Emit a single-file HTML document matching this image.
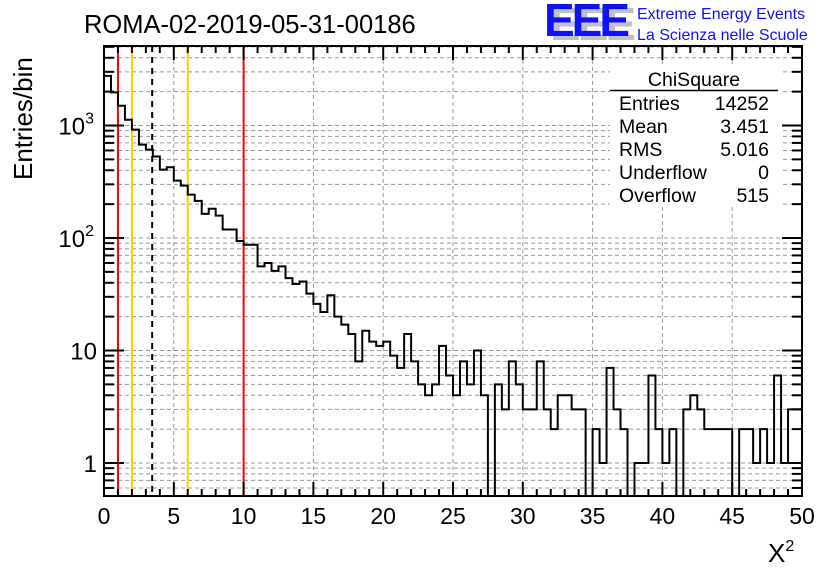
<!DOCTYPE html>
<html><head><meta charset="utf-8"><style>
body{margin:0;background:#fff}
svg text{font-family:"Liberation Sans",sans-serif}
</style></head><body>
<svg id="c" width="836" height="572" xmlns="http://www.w3.org/2000/svg">
<rect width="836" height="572" fill="#fff"/>
<g id="grid"></g>
<g id="vlines"></g>
<path id="hist" fill="none" stroke="#000" stroke-width="2"/>
<g id="axes"></g>
<g>
<rect x="610" y="67" width="170" height="140" fill="#fff"/>
<text x="694" y="86" font-size="19.5" text-anchor="middle">ChiSquare</text>
<line x1="610" y1="90.5" x2="778" y2="90.5" stroke="#000" stroke-width="1.5"/>
<g font-size="19.5">
<text x="619" y="110">Entries</text><text x="769" y="110" text-anchor="end">14252</text>
<text x="619" y="133">Mean</text><text x="769" y="133" text-anchor="end">3.451</text>
<text x="619" y="156">RMS</text><text x="769" y="156" text-anchor="end">5.016</text>
<text x="619" y="179">Underflow</text><text x="769" y="179" text-anchor="end">0</text>
<text x="619" y="202">Overflow</text><text x="769" y="202" text-anchor="end">515</text>
</g></g>
<text x="84" y="33" font-size="25.5">ROMA-02-2019-05-31-00186</text>
<g>
<text x="550" y="40" font-size="46" font-weight="bold" fill="#c0c0c8" letter-spacing="-3">EEE</text>
<text x="544" y="36" font-size="46" font-weight="bold" fill="#1010ff" letter-spacing="-3">EEE</text>
<text x="637" y="19" font-size="16" fill="#1010ff">Extreme Energy Events</text>
<text x="637" y="40" font-size="16" fill="#1010ff">La Scienza nelle Scuole</text>
</g>
<text transform="translate(32,180) rotate(-90)" font-size="26">Entries/bin</text>
<text x="768" y="562" font-size="26" font-family="Liberation Serif">X<tspan font-size="16" dy="-11">2</tspan></text>
</svg>
<script>
const counts=[2760,1970,1500,1125,918,676,610,530,405,425,324,292,243,214,164,182,158,119,119,94,
87,87,56,60,51,56,44,39,41,32,26,22,31,20,17,14,8,15,12,11,
12,9,7,14,8,5,4,5,11,6,4,8,5,10,4,0,5,3,8,5,
3,3,8,3,2,4,4,3,3,0,2,1,7,3,2,0,1,1,6,2,
1,2,0,3,4,3,2,2,2,2,0,2,2,1,2,1,6,1,3,3];
const binWidth=0.5;
const xTicks=[0,5,10,15,20,25,30,35,40,45,50];
const yTicks=[1,10,100,1000];
const markers=[{x:1,c:"#f00"},{x:10,c:"#f00"},{x:2,c:"#fc0"},{x:6,c:"#fc0"},{x:3.451,c:"#000",d:true}];
const L=104,R=802,T=46,B=496;
const X=v=>L+(v-0)/(50)*(R-L);
const Y=v=>463-112.5*Math.log10(v);
const ns="http://www.w3.org/2000/svg";
function mk(p,t,a){const e=document.createElementNS(ns,t);for(const k in a)e.setAttribute(k,a[k]);p.appendChild(e);return e;}
const grid=document.getElementById('grid'),axes=document.getElementById('axes'),vl=document.getElementById('vlines');
xTicks.forEach(t=>{if(t>0&&t<50){const l=mk(grid,'line',{x1:X(t),x2:X(t),y1:T,y2:B,stroke:'#999','stroke-dasharray':'4,3'});

}});
for(let d=-1;d<=3;d++)for(let m=1;m<10;m++){const v=m*Math.pow(10,d);const y=Y(v);if(y<T||y>B)continue;
const l=mk(grid,'line',{x1:L,x2:R,y1:y,y2:y,stroke:'#999','stroke-dasharray':'4,3'});


const a=mk(axes,'line',{x1:L,x2:L+(m==1?20:10),y1:y,y2:y,stroke:'#000','stroke-width':2});


const b=mk(axes,'line',{x1:R,x2:R-(m==1?20:10),y1:y,y2:y,stroke:'#000','stroke-width':2});

}
markers.forEach(m=>{const l=mk(vl,'line',{x1:X(m.x),x2:X(m.x),y1:T,y2:B,stroke:m.c,'stroke-width':2});
if(m.d)l.setAttribute('stroke-dasharray','6,5');

});
let d='';const yb=B;
counts.forEach((c,i)=>{const y=c>0?Math.max(T,Y(c)):yb;const x0=X(i*binWidth),x1=X((i+1)*binWidth);
d+=(i==0?`M${x0},${y}`:`L${x0},${y}`)+`L${x1},${y}`;});
document.getElementById('hist').setAttribute('d',d);
const fr=mk(axes,'rect',{x:L,y:T,width:R-L,height:B-T,fill:'none',stroke:'#000','stroke-width':2});


for(let v=0;v<=50;v++){const maj=v%5==0;const x=X(v);
const a=mk(axes,'line',{x1:x,x2:x,y1:B,y2:B-(maj?14:7),stroke:'#000','stroke-width':2});


const b=mk(axes,'line',{x1:x,x2:x,y1:T,y2:T+(maj?14:7),stroke:'#000','stroke-width':2});

}
xTicks.forEach(t=>{const e=mk(axes,'text',{x:X(t),y:524,'font-size':23,'text-anchor':'middle'});e.textContent=t;

});
yTicks.forEach(t=>{const e=mk(axes,'text',{x:t>=100?94:97,y:Y(t)+9,'font-size':24,'text-anchor':'end'});
if(t>=100){e.textContent='10';const s=mk(e,'tspan',{'font-size':16,dy:-11});s.textContent=Math.log10(t);}else e.textContent=t;

});
</script>
</body></html>
